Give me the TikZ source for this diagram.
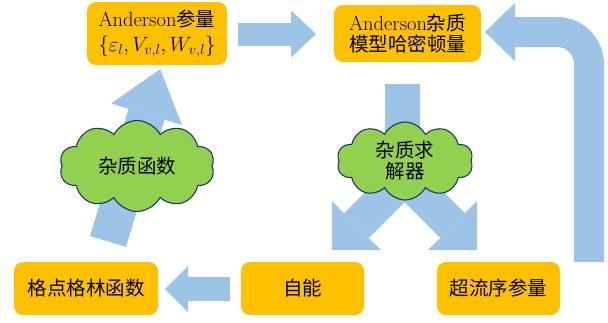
\documentclass[tikz,border=0pt]{standalone}
\usepackage{fontspec}
\newfontfamily\cjk{Noto Sans CJK SC}
\usetikzlibrary{arrows.meta,shapes.symbols}
\definecolor{boxo}{HTML}{FFC000}
\definecolor{arrb}{HTML}{9DC3E6}
\definecolor{cgreen}{HTML}{92D050}
\definecolor{cline}{HTML}{203864}
\newcommand\zhtext[1]{{\cjk\fontsize{19.5}{23}\selectfont #1}}
\begin{document}
\begin{tikzpicture}[x=1pt,y=-1pt,
  box/.style={fill=boxo, rounded corners=9pt, inner sep=0pt, align=center, font=\fontsize{20.5}{23}\selectfont},
  puff/.style={cloud, cloud puffs=10, cloud puff arc=125, aspect=1.7, draw=cline, line width=1.1pt, fill=cgreen, inner sep=0pt, align=center, font=\cjk\fontsize{19.5}{21}\selectfont},
  band/.style={draw=arrb, line width=#1},
  head/.style n args={2}{-{Triangle[length=#1,width=#2,line width=0pt]}}]
\useasboundingbox (0,0) rectangle (608,322);

% arrow end points
\coordinate (a1s) at (238,34);    \coordinate (a1e) at (316,34);
\coordinate (a2s) at (589,262);   \coordinate (a2c) at (589,32);  \coordinate (a2e) at (485,32);
\coordinate (a3s) at (402.5,84);  \coordinate (a3e) at (402.5,165);
\coordinate (a4s) at (404.5,177.5); \coordinate (a4l) at (332,250); \coordinate (a4r) at (477,250);
\coordinate (a5s) at (230,289);   \coordinate (a5e) at (165,289);
\coordinate (a6s) at (108,241.5); \coordinate (a6e) at (160.2,69.2);

% block arrows
\draw[band=23pt, head={25pt}{47pt}] (a1s) -- (a1e);
\draw[band=30pt, rounded corners=32pt, head={30pt}{58pt}] (a2s) -- (a2c) -- (a2e);
\draw[band=35pt] (a3s) -- (a3e);
\draw[band=35pt, head={34.5pt}{69pt}] (a4s) -- (a4l);
\draw[band=35pt, head={34.5pt}{69pt}] (a4s) -- (a4r);
\draw[band=24pt, head={23pt}{46pt}] (a5s) -- (a5e);
\draw[band=37.6pt, head={47pt}{74pt}] (a6s) -- (a6e);

% boxes
\node[box, minimum width=140pt, minimum height=63pt, font=\fontsize{20.5}{24.5}\selectfont] (params) at (157,33.5)
  {Anderson\zhtext{参量}\\$\{\varepsilon_l,V_{v,l},W_{v,l}\}$};
\node[box, minimum width=147pt, minimum height=57pt, font=\fontsize{20.5}{21}\selectfont] (ham) at (407.5,33.5)
  {Anderson\zhtext{杂质}\\\zhtext{模型哈密顿量}};
\node[box, minimum width=144pt, minimum height=53pt] (latg) at (86,288.5) {\zhtext{格点格林函数}};
\node[box, minimum width=123pt, minimum height=53pt] (self) at (302.5,288.5) {\zhtext{自能}};
\node[box, minimum width=123pt, minimum height=53pt] (sc) at (498.5,288.5) {\zhtext{超流序参量}};

% clouds
\node[puff, minimum width=155pt, minimum height=91pt] (imp) at (137,166) {杂质函数};
\node[puff, minimum width=136pt, minimum height=78pt] (solver) at (405,161) {杂质求\\解器};
\end{tikzpicture}
\end{document}
